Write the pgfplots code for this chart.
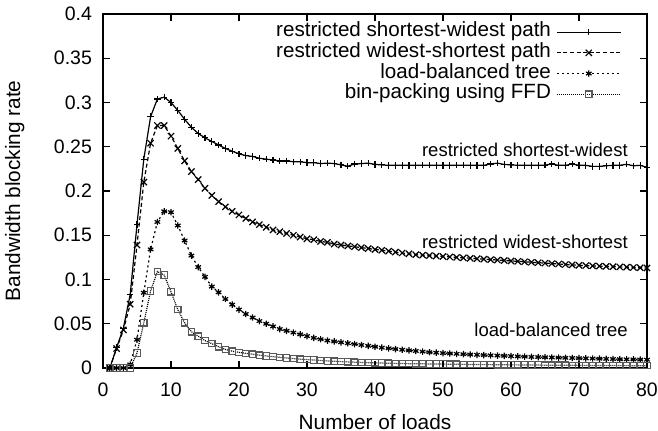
\documentclass[border=0pt]{standalone}
\usepackage{pgfplots}
\pgfplotsset{compat=1.18}
\usepackage{pgfplotstable}
\usepackage{fontspec}
\setmainfont{Liberation Sans}

\pgfplotstableread{
x rsw rws lbt ffd
1 0 0 0 0
2 0.023 0.022 0 0
3 0.045 0.043 0 0
4 0.083 0.072 0.004 0
5 0.162 0.139 0.032 0.017
6 0.236 0.210 0.085 0.051
7 0.284 0.254 0.134 0.087
8 0.304 0.274 0.165 0.109
9 0.306 0.274 0.177 0.105
10 0.300 0.262 0.176 0.086
11 0.291 0.248 0.161 0.066
12 0.281 0.234 0.144 0.051
13 0.272 0.222 0.127 0.041
14 0.265 0.213 0.114 0.036
15 0.260 0.203 0.103 0.031
16 0.256 0.195 0.092 0.0275
17 0.252 0.188 0.0855 0.024
18 0.248 0.182 0.078 0.021
19 0.245 0.177 0.0716 0.019
20 0.242 0.173 0.066 0.0177
21 0.240 0.169 0.061 0.0165
22 0.239 0.165 0.057 0.0155
23 0.237 0.162 0.053 0.0145
24 0.236 0.159 0.050 0.0136
25 0.235 0.156 0.047 0.0128
26 0.234 0.154 0.044 0.0120
27 0.234 0.152 0.042 0.0113
28 0.233 0.150 0.040 0.0106
29 0.233 0.148 0.038 0.0100
30 0.232 0.146 0.036 0.0095
31 0.232 0.145 0.034 0.0090
32 0.231 0.143 0.0325 0.0085
33 0.2315 0.142 0.031 0.0080
34 0.231 0.140 0.030 0.0076
35 0.2295 0.139 0.029 0.0072
36 0.228 0.138 0.028 0.0069
37 0.2305 0.137 0.027 0.0066
38 0.231 0.136 0.026 0.0063
39 0.2315 0.135 0.025 0.0060
40 0.230 0.134 0.024 0.0058
41 0.2295 0.133 0.023 0.0056
42 0.229 0.132 0.0222 0.0054
43 0.229 0.131 0.0214 0.0052
44 0.229 0.130 0.0206 0.0050
45 0.229 0.129 0.0199 0.0049
46 0.229 0.128 0.0192 0.0048
47 0.2292 0.1275 0.0185 0.0047
48 0.2292 0.127 0.0178 0.0046
49 0.229 0.1265 0.0173 0.0045
50 0.229 0.126 0.0168 0.0044
51 0.229 0.1255 0.0164 0.0043
52 0.2292 0.125 0.0160 0.0042
53 0.2292 0.1245 0.0156 0.0041
54 0.229 0.124 0.0152 0.0040
55 0.229 0.1235 0.0149 0.0039
56 0.229 0.123 0.0146 0.0038
57 0.2305 0.1225 0.0143 0.0038
58 0.2315 0.122 0.0140 0.0037
59 0.230 0.1215 0.0137 0.0036
60 0.2295 0.121 0.0134 0.0035
61 0.229 0.1205 0.0131 0.0035
62 0.229 0.120 0.0128 0.0034
63 0.229 0.1195 0.0125 0.0033
64 0.229 0.119 0.0123 0.0033
65 0.2292 0.1185 0.0121 0.0032
66 0.2305 0.118 0.0119 0.0032
67 0.229 0.1175 0.0117 0.0031
68 0.229 0.117 0.0115 0.0031
69 0.2305 0.1165 0.0113 0.0030
70 0.229 0.116 0.0111 0.0030
71 0.229 0.1157 0.0109 0.0029
72 0.2278 0.1154 0.0107 0.0029
73 0.2278 0.1151 0.0105 0.0028
74 0.2285 0.1148 0.0103 0.0028
75 0.229 0.1145 0.0101 0.0028
76 0.229 0.1142 0.0099 0.0027
77 0.2302 0.1139 0.0098 0.0027
78 0.2285 0.1136 0.0097 0.0026
79 0.229 0.1133 0.0095 0.0026
80 0.2268 0.1130 0.0094 0.0026
}\data

\begin{document}
\begin{tikzpicture}
\begin{axis}[
  scale only axis,
  width=272pt, height=177pt,
  xmin=0, xmax=80, ymin=0, ymax=0.4,
  xtick={0,10,...,80},
  ytick={0,0.05,...,0.4},
  axis line style={line width=0.8pt},
  major tick length=3.3pt,
  every tick/.style={black, line width=0.6pt},
  /pgf/number format/assume math mode=true,
  scaled y ticks=false,
  tick label style={font=\fontsize{9.75}{11}\selectfont},
  label style={font=\fontsize{10.4}{12}\selectfont},
  yticklabel style={/pgf/number format/fixed, /pgf/number format/precision=2, xshift=-2pt},
  xticklabel style={yshift=-4pt},
  xlabel={Number of loads},
  ylabel={Bandwidth blocking rate},
  xlabel style={at={(axis description cs:0.5,-0.1525)}, anchor=center},
  ylabel style={at={(axis description cs:-0.162,0.5)}, anchor=center},
  legend plot pos=right,
  legend cell align=right,
  legend style={draw=none, fill=none, at={(1,1)}, anchor=north east,
    xshift=-12.6pt, yshift=-3.7pt, inner sep=0pt, row sep=0pt,
    font=\fontsize{10.3}{12}\selectfont,
    nodes={inner sep=0.9pt, text height=6.6pt, text depth=1.95pt},
    /tikz/every odd column/.style={column sep=1.7pt}},
  legend image code/.code={%
    \draw[mark repeat=2,mark phase=2] plot coordinates {(0pt,0pt) (16pt,0pt) (32pt,0pt)};},
  mark size=1.6pt,
  every axis plot/.append style={line width=0.6pt, black},
]
\addplot[solid, mark=+, mark options={solid}] table[x=x,y=rsw] {\data};
\addlegendentry{restricted shortest-widest path}
\addplot[dash pattern=on 2pt off 1.3pt, mark=x, mark size=2.2pt, mark options={solid}] table[x=x,y=rws] {\data};
\addlegendentry{restricted widest-shortest path}
\addplot[dash pattern=on 1pt off 1.5pt, mark=asterisk, mark options={solid}] table[x=x,y=lbt] {\data};
\addlegendentry{load-balanced tree}
\addplot[dash pattern=on 0.5pt off 0.5pt, mark=square, mark options={solid, draw=black!65}] table[x=x,y=ffd] {\data};
\addlegendentry{bin-packing using FFD}
\node[anchor=east, font=\fontsize{9.25}{11}\selectfont] at (axis cs:78.2,0.2467) {restricted shortest-widest};
\node[anchor=east, font=\fontsize{9.25}{11}\selectfont] at (axis cs:78.2,0.143) {restricted widest-shortest};
\node[anchor=east, font=\fontsize{9.25}{11}\selectfont] at (axis cs:78.2,0.0433) {load-balanced tree};
\end{axis}
\pgfresetboundingbox
\path[use as bounding box] (-51.5pt,-31.5pt) rectangle (277.5pt,184pt);
\end{tikzpicture}
\end{document}
